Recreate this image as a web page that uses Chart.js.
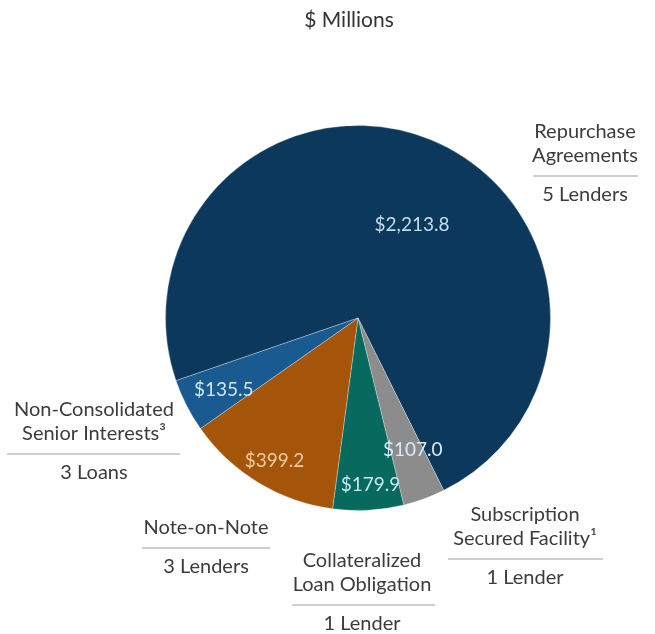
<!DOCTYPE html>
<html>
<head>
<meta charset="utf-8">
<title>Financing Sources</title>
<script src="https://cdn.jsdelivr.net/npm/chart.js@4.4.1/dist/chart.umd.min.js"></script>
<style>
  html, body { margin: 0; padding: 0; background: #ffffff; }
  canvas { display: block; }
</style>
</head>
<body>
<canvas id="financing-chart" width="655" height="634"></canvas>
<script>
// outstanding balance by facility, $ millions
var categories = ['Repurchase Agreements', 'Subscription Secured Facility', 'Collateralized Loan Obligation', 'Note-on-Note', 'Non-Consolidated Senior Interests'];
var amounts = [2213.8, 107.0, 179.9, 399.2, 135.5];
var counterparties = ['5 Lenders', '1 Lender', '1 Lender', '3 Lenders', '3 Loans'];
var nameLines = [
  ['Repurchase', 'Agreements'],
  ['Subscription', 'Secured Facility\u00b9'],
  ['Collateralized', 'Loan Obligation'],
  ['Note-on-Note'],
  ['Non-Consolidated', 'Senior Interests\u00b3']
];

var sliceColors = ['#0c385c', '#8c8c8c', '#08695f', '#a4550a', '#195a91'];
var valueColors = ['#c4ddf2', '#dceaf6', '#c6e8f0', '#f8cca2', '#d2e7f7'];

// where each value sits inside its slice: share of the radius, turn from mid-angle (deg)
var valueSpots = [[0.56, 7.8], [0.74, -2.5], [0.87, -1.2], [0.86, -1.0], [0.79, -1.0]];

// category captions around the pie: centre x, first line y, rule from/to
var captionSpots = [
  {x: 585, y: 132, rule: [533, 638]},
  {x: 525, y: 515, rule: [448, 603]},
  {x: 362, y: 561, rule: [292, 435]},
  {x: 206, y: 528, rule: [142, 270]},
  {x: 94,  y: 410, rule: [7, 180]}
];

var FONT = 'Lato, "Open Sans", sans-serif';

function money(v) {
  return '$' + v.toLocaleString('en-US', {minimumFractionDigits: 1, maximumFractionDigits: 1});
}

var pieText = {
  id: 'pieText',
  afterDatasetsDraw: function (chart) {
    var ctx = chart.ctx;
    var arcs = chart.getDatasetMeta(0).data;
    ctx.save();
    ctx.textAlign = 'center';
    ctx.textBaseline = 'middle';

    // values inside the slices
    ctx.font = '19px ' + FONT;
    arcs.forEach(function (arc, i) {
      var p = arc.getProps(['x', 'y', 'startAngle', 'endAngle', 'outerRadius'], true);
      var mid = (p.startAngle + p.endAngle) / 2 + valueSpots[i][1] * Math.PI / 180;
      var r = p.outerRadius * valueSpots[i][0];
      ctx.fillStyle = valueColors[i];
      ctx.fillText(money(amounts[i]), p.x + Math.cos(mid) * r, p.y + Math.sin(mid) * r);
    });

    // unit heading
    ctx.fillStyle = '#333333';
    ctx.font = '21px ' + FONT;
    ctx.fillText('$ Millions', 349, 20);

    // captions with a rule and lender count
    captionSpots.forEach(function (spot, i) {
      var lines = nameLines[i];
      var y = spot.y;
      ctx.fillStyle = '#3c3c3c';
      ctx.font = '20px ' + FONT;
      lines.forEach(function (line, j) {
        ctx.fillText(line, spot.x, y + j * 24);
      });
      var ruleY = y + (lines.length - 1) * 24 + 20;
      ctx.strokeStyle = '#cfcfcf';
      ctx.lineWidth = 2;
      ctx.beginPath();
      ctx.moveTo(spot.rule[0], ruleY);
      ctx.lineTo(spot.rule[1], ruleY);
      ctx.stroke();
      ctx.fillText(counterparties[i], spot.x, ruleY + 19);
    });
    ctx.restore();
  }
};

new Chart(document.getElementById('financing-chart'), {
  type: 'pie',
  data: {
    labels: categories,
    datasets: [{
      data: amounts,
      backgroundColor: sliceColors,
      borderColor: 'rgba(255,255,255,0.3)',
      borderWidth: 1
    }]
  },
  options: {
    responsive: false,
    animation: false,
    rotation: 251,
    layout: {
      padding: {left: 165, right: 104, top: 125, bottom: 123}
    },
    plugins: {
      legend: {display: false},
      tooltip: {enabled: false}
    }
  },
  plugins: [pieText]
});
</script>
</body>
</html>
